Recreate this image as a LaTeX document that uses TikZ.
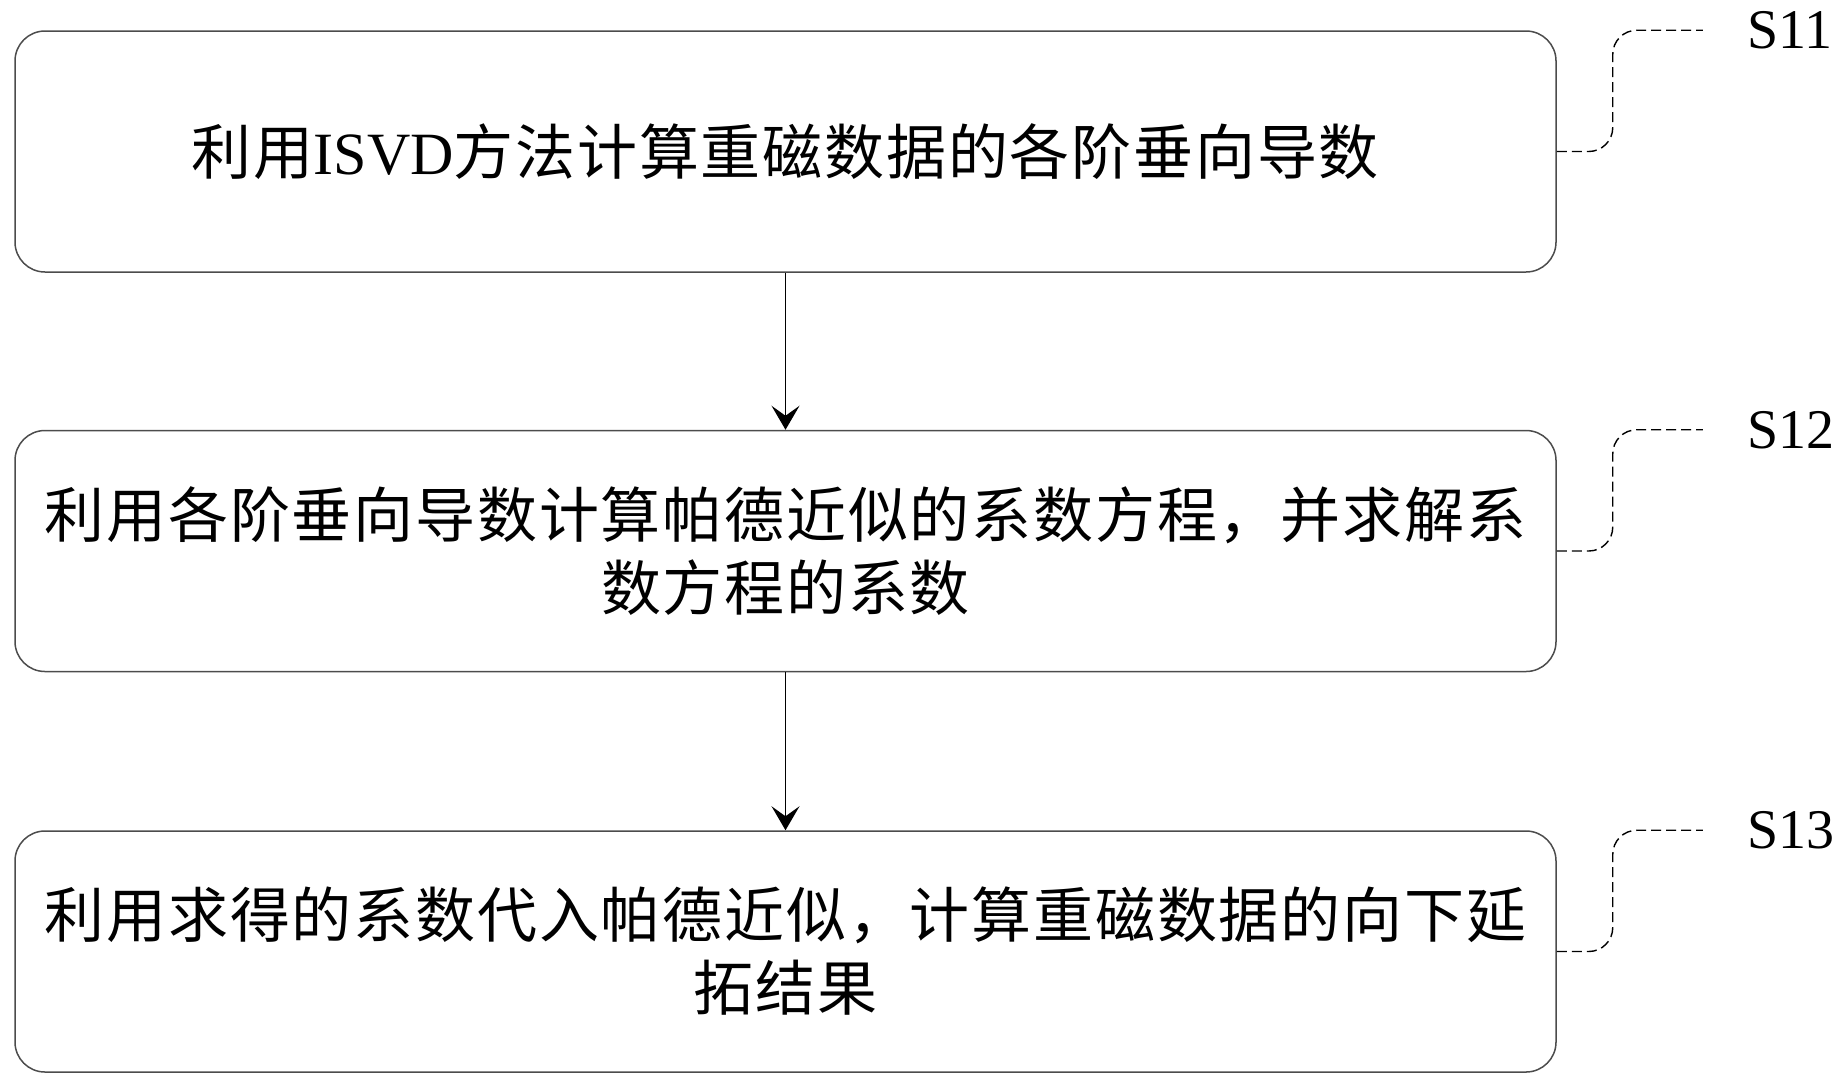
\documentclass[tikz,border=0pt]{standalone}
\usepackage{fontspec}
\setmainfont{Liberation Serif}
\newfontfamily\cjk[LetterSpace=3]{Noto Sans CJK SC}
\usetikzlibrary{positioning, arrows.meta}
\newcommand{\flownode}[3]{\node[flowbox, #3] (#1) {#2};}
\newcommand{\flowedge}[2]{\draw [->, >={Stealth[length=12pt, width=14pt, inset=5pt]}, line width=0.7pt] (#1) -- (#2);}
\newcommand{\flowtag}[2]{\node[tag, right=95pt of #2.north east] (t#1) {#1};
\draw [callout] (#2.east) -- ++(28pt,0) |- ([xshift=-22pt]t#1.west);}

\begin{document}
\begin{tikzpicture}[x=0.5pt, y=-0.5pt,
  flowbox/.style={draw=black!70, line width=0.75pt, rounded corners=15pt, minimum width=770.5pt, minimum height=120.5pt, align=center, inner sep=0pt, font=\fontsize{30pt}{36.5pt}\selectfont},
  tag/.style={inner sep=0pt, font=\fontsize{28pt}{30pt}\selectfont},
  callout/.style={dash pattern=on 5pt off 2.5pt, line width=0.7pt, rounded corners=12pt}]
\useasboundingbox (0,0) rectangle (1840,1083);

\flownode{b11}{{\cjk 利用}ISVD{\cjk 方法计算重磁数据的各阶垂向导数}}{at={(785.5,151.5)}};
\flownode{b12}{\cjk 利用各阶垂向导数计算帕德近似的系数方程，并求解系\\ \cjk 数方程的系数}{below=78.5pt of b11};
\flownode{b13}{\cjk 利用求得的系数代入帕德近似，计算重磁数据的向下延\\ \cjk 拓结果}{below=79pt of b12};

\flowedge{b11}{b12};
\flowedge{b12}{b13};

\flowtag{S11}{b11};
\flowtag{S12}{b12};
\flowtag{S13}{b13};
\end{tikzpicture}
\end{document}
